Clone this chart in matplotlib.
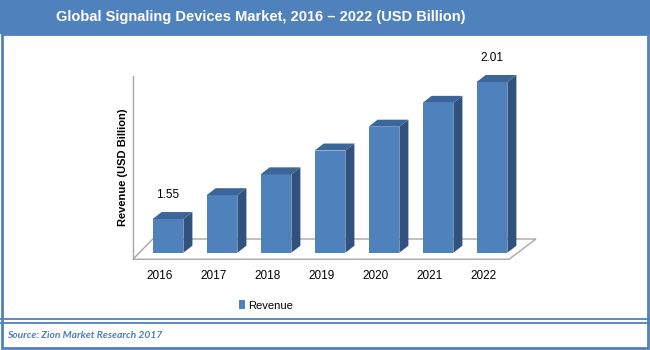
import matplotlib.pyplot as plt
from matplotlib.patches import Polygon, Rectangle

# data
years = ['2016', '2017', '2018', '2019', '2020', '2021', '2022']
revenue = [1.55, 1.63, 1.70, 1.78, 1.86, 1.94, 2.01]
shown_labels = ['1.55', '', '', '', '', '', '2.01']

# bar look
base = 1.437          # floor value of the bars
bar_w = 0.57
dep_x = 0.167         # 3d depth in category units
dep_y = 0.0235        # 3d depth in value units
c_front = '#4F81BD'
c_side = '#31527C'
c_top = '#3C6699'
c_floor = '#A6A6A6'
blue = '#4F81BD'
sans = 'Liberation Sans'

W, H = 650, 350
fig = plt.figure(figsize=(W / 100, H / 100), dpi=100)

# frame / title band in pixel coords
bg = fig.add_axes([0, 0, 1, 1])
bg.set_xlim(0, W)
bg.set_ylim(H, 0)
bg.axis('off')
bg.add_patch(Rectangle((0, 0), W, 34, color=blue, lw=0))
bg.add_patch(Rectangle((1.5, 34), W - 3.5, 313.5, fill=False, ec=blue, lw=2))
bg.plot([0, W], [319, 319], color=blue, lw=1.3)
bg.plot([0, W], [322.5, 322.5], color=blue, lw=1.3)
bg.text(261, 17, 'Global Signaling Devices Market, 2016 \u2013 2022 (USD Billion)',
        color='white', fontsize=10.5, fontweight='bold', ha='center', va='center',
        family=sans)
bg.text(7, 335, 'Source: Zion Market Research 2017', color='#4A7EBB',
        fontsize=7.4, style='italic', fontweight='bold', ha='left', va='center',
        family='Lato')
bg.text(123, 167, 'Revenue (USD Billion)', rotation=90, fontsize=8,
        fontweight='bold', ha='center', va='center', family=sans)

# chart axes
ax = fig.add_axes([130 / W, 1 - 265 / H, 410 / W, 225 / H])
ax.set_xlim(-0.7037, 6.889)
ax.set_ylim(1.3957, 2.151)
ax.axis('off')

# floor and left wall edge
f_front = base - 0.022
f_back = base + 0.046
floor = [(-0.648, f_front), (-0.283, f_back), (6.815, f_back), (6.315, f_front)]
ax.add_patch(Polygon(floor, closed=True, fill=False, ec=c_floor, lw=1, zorder=1))
ax.plot([-0.648, -0.648], [f_front, 2.031], color=c_floor, lw=1, zorder=1)

x = list(range(len(years)))
bars = ax.bar(x, [v - base for v in revenue], bottom=base, width=bar_w,
              color=c_front, zorder=3, label='Revenue')

for i, v in enumerate(revenue):
    xl = i - bar_w / 2
    xr = i + bar_w / 2
    side = [(xr, base), (xr, v), (xr + dep_x, v + dep_y), (xr + dep_x, base + dep_y)]
    top = [(xl, v), (xr, v), (xr + dep_x, v + dep_y), (xl + dep_x, v + dep_y)]
    ax.add_patch(Polygon(side, closed=True, color=c_side, lw=0, zorder=3))
    ax.add_patch(Polygon(top, closed=True, color=c_top, lw=0, zorder=3))
    if shown_labels[i]:
        ax.annotate(shown_labels[i], xy=(i, v + dep_y), xytext=(0, 17),
                    textcoords='offset pixels', ha='center', va='center',
                    fontsize=8.5, family=sans)
    ax.annotate(years[i], xy=(i, base), xytext=(-8.5, -23.3),
                textcoords='offset pixels', ha='center', va='center',
                fontsize=8.5, family=sans)

fig.legend(handles=[bars], labels=['Revenue'], loc='center',
           bbox_to_anchor=(266 / W, 1 - 305.5 / H), frameon=False,
           prop={'family': sans, 'size': 8},
           handlelength=0.6, handleheight=0.8, handletextpad=0.3)

fig.savefig('out.png', dpi=100)
